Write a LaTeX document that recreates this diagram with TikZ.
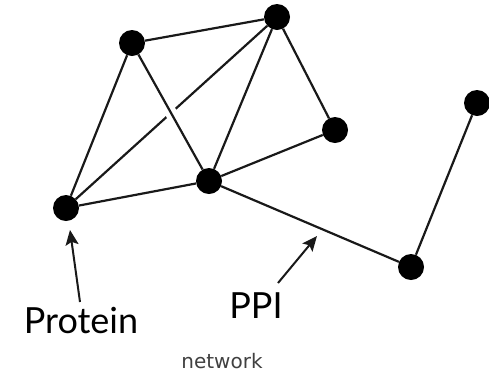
\documentclass[tikz,border=0pt]{standalone}
\usepackage{fontspec}
\newfontfamily\latofont{Lato}
\newfontfamily\dejafont{DejaVu Sans}
\usetikzlibrary{arrows.meta}
\begin{document}
\begin{tikzpicture}[x=1bp,y=-1bp,
  dot/.style={circle,fill=black,inner sep=0pt,minimum size=26bp},
  edge/.style={draw=black!90,line width=2.2bp},
  pointer/.style={draw=black!90,line width=2bp,-{Stealth[length=15bp,width=13bp,inset=3bp]}},
  biglabel/.style={font=\latofont\fontsize{36bp}{40bp}\selectfont,anchor=base,inner sep=0pt},
  smalllabel/.style={font=\dejafont\fontsize{20bp}{24bp}\selectfont,text=black!75,anchor=base,inner sep=0pt}]
\useasboundingbox (0,0) rectangle (489,374);
\node[dot] (A) at (132,43) {};
\node[dot] (B) at (277,17) {};
\node[dot] (C) at (477,103) {};
\node[dot] (D) at (335,130) {};
\node[dot] (E) at (209,181) {};
\node[dot] (F) at (66,208) {};
\node[dot] (G) at (411,267) {};
\draw[edge] (B) -- (F);
\draw[edge,preaction={draw=white,line width=12bp,shorten <=50bp,shorten >=50bp}] (A) -- (E);
\draw[edge] (A) -- (B);
\draw[edge] (A) -- (F);
\draw[edge] (B) -- (E);
\draw[edge] (B) -- (D);
\draw[edge] (E) -- (D);
\draw[edge] (F) -- (E);
\draw[edge] (E) -- (G);
\draw[edge] (G) -- (C);
\node[biglabel] (protein) at (81,333) {Protein};
\node[biglabel] (ppi) at (256,318) {PPI};
\node[smalllabel] (net) at (222,368) {network};
\coordinate (ptail) at (80,302);
\coordinate (ptip) at (70,230);
\coordinate (ppitail) at (278,283);
\coordinate (ppitip) at (317,236);
\draw[pointer] (ptail) -- (ptip);
\draw[pointer] (ppitail) -- (ppitip);
\end{tikzpicture}
\end{document}
